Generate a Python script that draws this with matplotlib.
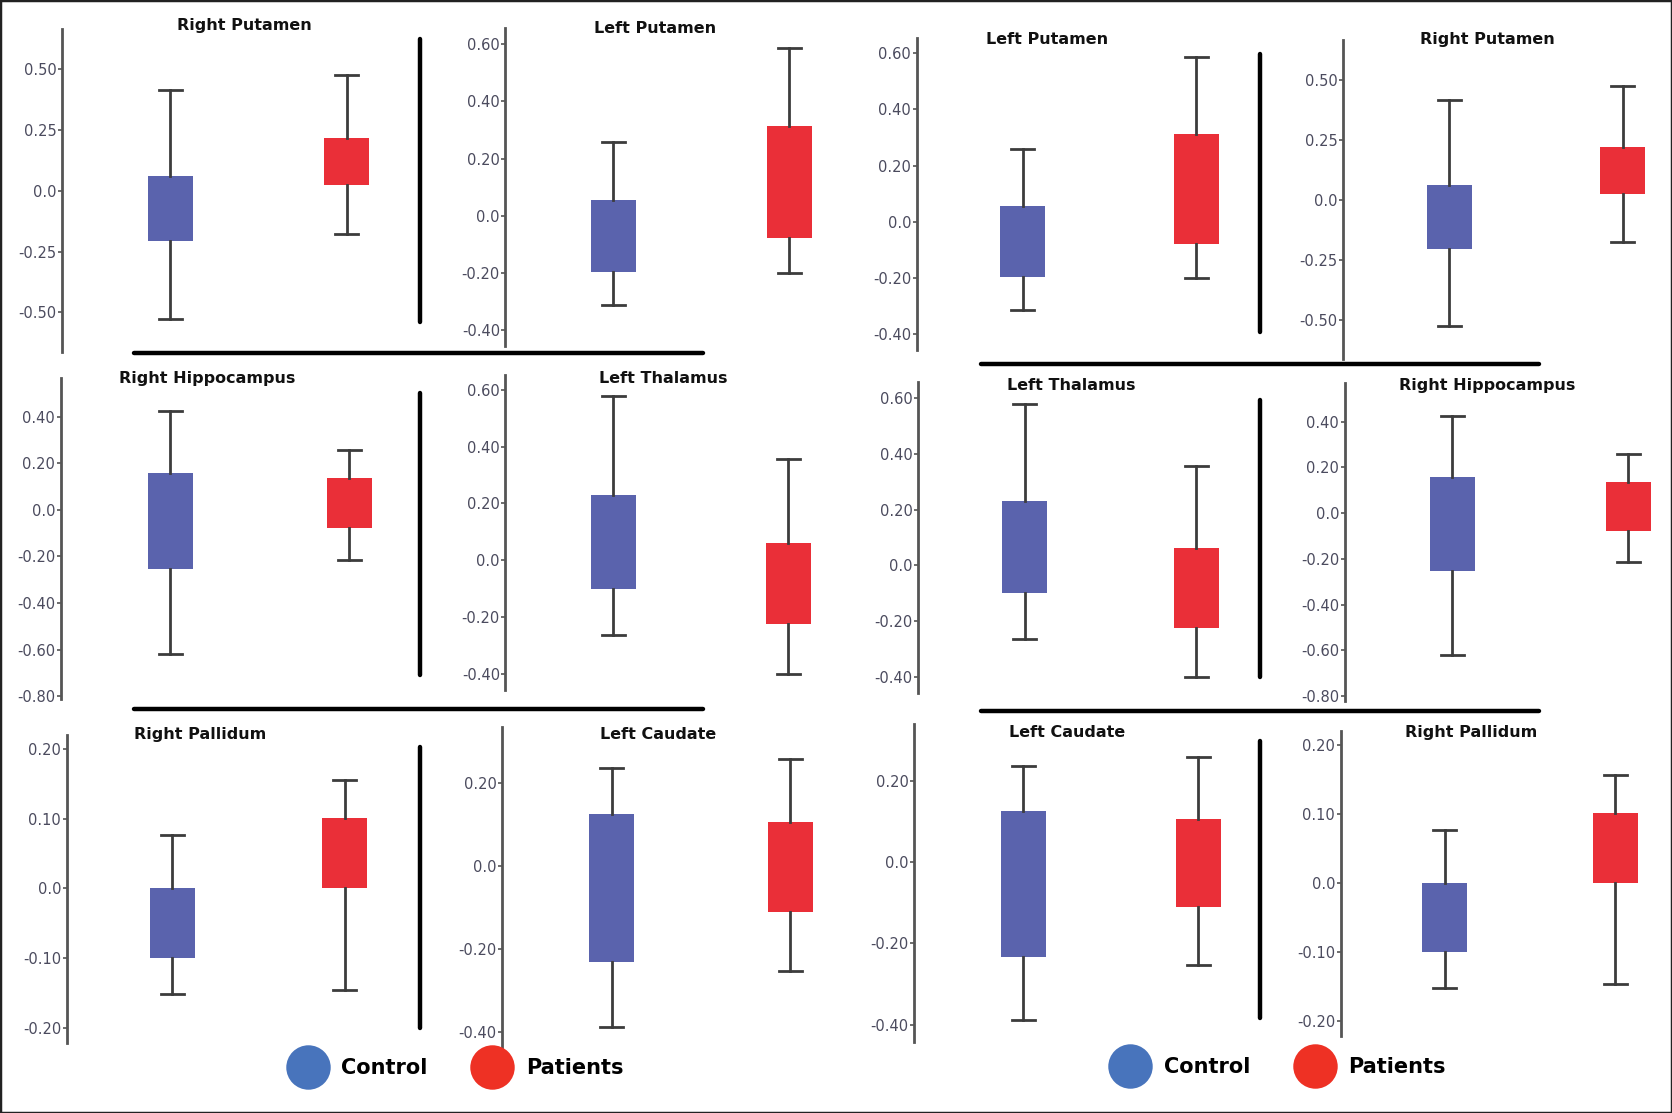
import numpy as np
import matplotlib
matplotlib.use('Agg')
import matplotlib.pyplot as plt
from matplotlib.lines import Line2D
from matplotlib.patches import Rectangle

# 数据：每个脑区 control / patients 的箱线统计量
regions = ['Right Putamen', 'Left Putamen', 'Right Hippocampus',
           'Left Thalamus', 'Right Pallidum', 'Left Caudate']

control_lo = [-0.527, -0.314, -0.621, -0.264, -0.152, -0.388]
control_q1 = [-0.206, -0.196, -0.254, -0.101, -0.100, -0.233]
control_q3 = [0.061, 0.055, 0.160, 0.230, 0.000, 0.126]
control_hi = [0.415, 0.259, 0.424, 0.580, 0.077, 0.237]

patient_lo = [-0.176, -0.200, -0.214, -0.401, -0.146, -0.253]
patient_q1 = [0.023, -0.079, -0.076, -0.224, 0.000, -0.111]
patient_q3 = [0.219, 0.314, 0.136, 0.062, 0.101, 0.105]
patient_hi = [0.475, 0.586, 0.257, 0.357, 0.156, 0.259]

# y 轴刻度
tick_values = [
    [0.50, 0.25, 0.0, -0.25, -0.50],
    [0.60, 0.40, 0.20, 0.0, -0.20, -0.40],
    [0.40, 0.20, 0.0, -0.20, -0.40, -0.60, -0.80],
    [0.60, 0.40, 0.20, 0.0, -0.20, -0.40],
    [0.20, 0.10, 0.0, -0.10, -0.20],
    [0.20, 0.0, -0.20, -0.40],
]
tick_labels = [
    ['0.50', '0.25', '0.0', '-0.25', '-0.50'],
    ['0.60', '0.40', '0.20', '0.0', '-0.20', '-0.40'],
    ['0.40', '0.20', '0.0', '-0.20', '-0.40', '-0.60', '-0.80'],
    ['0.60', '0.40', '0.20', '0.0', '-0.20', '-0.40'],
    ['0.20', '0.10', '0.0', '-0.10', '-0.20'],
    ['0.20', '0.0', '-0.20', '-0.40'],
]

groups = ['Control', 'Patients']

############# 版面（以 1568x1044 的像素坐标描述）
W, H = 1568.0, 1044.0

# (region, axis_x, axis_top, axis_bot, tick_top_y, tick_bot_y, c1_x, c2_x, title_x, title_y)
layout = [
    # 左半
    ('Right Putamen', 58, 27.5, 330, 65, 293, 159.5, 325, 229, 24),
    ('Left Putamen', 474, 26.6, 325, 41.6, 309.5, 575, 740, 614, 27),
    ('Right Hippocampus', 57, 355, 656, 390.8, 653, 159.5, 327.7, 194, 355.5),
    ('Left Thalamus', 474, 351.7, 647, 365.8, 632, 575, 739, 622, 355.5),
    ('Right Pallidum', 62.5, 689, 978, 702.5, 964, 161.6, 323.5, 187.6, 689),
    ('Left Caudate', 471, 681.6, 983, 734.5, 967.6, 573.6, 741, 617, 688.6),
    # 右半
    ('Left Putamen', 859.7, 36, 328, 50, 313.5, 959, 1122, 982, 37),
    ('Right Putamen', 1259.7, 37.5, 337, 75, 300, 1359, 1522, 1395, 37),
    ('Left Thalamus', 861, 358, 650, 373.5, 634.6, 961, 1122, 1005, 362),
    ('Right Hippocampus', 1261, 359, 658, 395.5, 653, 1362, 1527, 1394.6, 362),
    ('Left Caudate', 857.5, 679, 977, 732.5, 961, 959.5, 1123.5, 1000.7, 687),
    ('Right Pallidum', 1257.4, 686, 972, 698.7, 958, 1354.7, 1514.6, 1379.6, 687),
]

vlines = [(394, 37, 302), (394, 369, 633), (394, 700.5, 964),
          (1182, 51, 311), (1182, 375, 634.6), (1182, 694.6, 954.7)]
hlines = [(331, 126, 659), (665, 126, 659),
          (341.4, 920, 1443), (666.5, 920, 1443)]

c_blue = '#5A63AD'
c_red = '#EA2F38'
whisk_col = '#3c3c3c'
tick_col = '#4b4b5e'

fig = plt.figure(figsize=(16.72, 11.13), dpi=100)

for (name, ax_x, ax_top, ax_bot, tt_y, tb_y, c1, c2, t_x, t_y) in layout:
    i = regions.index(name)
    tv = tick_values[i]
    right_px = c2 + 40
    ax = fig.add_axes([ax_x / W, 1 - ax_bot / H, (right_px - ax_x) / W, (ax_bot - ax_top) / H])

    # x 方向：位置 1、2 对应两个箱子
    ppx = c2 - c1
    x0 = 1 - (c1 - ax_x) / ppx
    ax.set_xlim(x0, x0 + (right_px - ax_x) / ppx)

    # y 方向：由刻度位置反推范围
    ppy = (tb_y - tt_y) / (tv[0] - tv[-1])
    ax.set_ylim(tv[-1] - (ax_bot - tb_y) / ppy, tv[0] + (tt_y - ax_top) / ppy)

    stats = []
    for lo, q1, q3, hi in [(control_lo[i], control_q1[i], control_q3[i], control_hi[i]),
                           (patient_lo[i], patient_q1[i], patient_q3[i], patient_hi[i])]:
        stats.append(dict(whislo=lo, q1=q1, med=(q1 + q3) / 2, q3=q3, whishi=hi, fliers=[]))

    bp = ax.bxp(stats, positions=[1, 2], widths=45 / 1.066 / ppx, capwidths=23 / 1.066 / ppx,
                patch_artist=True, showfliers=False,
                boxprops=dict(linewidth=0),
                whiskerprops=dict(color=whisk_col, linewidth=2.0),
                capprops=dict(color=whisk_col, linewidth=2.0),
                medianprops=dict(visible=False))
    for patch, col in zip(bp['boxes'], [c_blue, c_red]):
        patch.set_facecolor(col)
        patch.set_edgecolor(col)

    for s in ['top', 'right', 'bottom']:
        ax.spines[s].set_visible(False)
    ax.spines['left'].set_color('#555555')
    ax.spines['left'].set_linewidth(2.0)
    ax.set_xticks([])
    ax.set_yticks(tv)
    ax.set_yticklabels(tick_labels[i])
    ax.tick_params(axis='y', length=3, width=1.2, color='#555555', pad=1,
                   labelsize=10.5, labelcolor=tick_col)
    ax.patch.set_visible(False)

    fig.text(t_x / W, 1 - t_y / H, name, ha='center', va='center',
             fontsize=11.5, fontweight='bold', color='#111111')

# 分隔线
for x, y1, y2 in vlines:
    fig.add_artist(Line2D([x / W, x / W], [1 - y1 / H, 1 - y2 / H], color='black', linewidth=3.2,
                          solid_capstyle='round'))
for y, x1, x2 in hlines:
    fig.add_artist(Line2D([x1 / W, x2 / W], [1 - y / H, 1 - y / H], color='black', linewidth=3.2,
                          solid_capstyle='round'))

# 图例（两份）
handles = [Line2D([], [], linestyle='none', marker='o', markersize=32, color=c,
                  markeredgewidth=0) for c in ['#4874BC', '#EE3124']]
for cx, cy in [(426, 1002), (1197, 1001)]:
    fig.legend(handles, groups, loc='center', bbox_to_anchor=(cx / W, 1 - cy / H),
               ncol=2, frameon=False, handlelength=2.2, handletextpad=0.5,
               columnspacing=2.0, prop=dict(weight='bold', size=15))

# 外边框
fig.add_artist(Rectangle((0, 0), 1, 1, transform=fig.transFigure, fill=False,
                         edgecolor='#222222', linewidth=2.5))

fig.savefig('out.png', dpi=100, facecolor='white')
